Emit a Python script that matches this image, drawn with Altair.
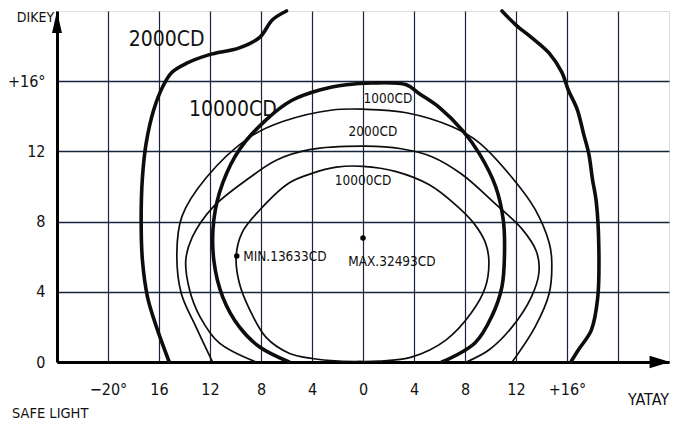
import altair as alt
import pandas as pd

FONT = "Liberation Sans Narrow, DejaVu Sans Condensed, Arial Narrow, sans-serif"

# ---- axes ----
x_grid = [-20, -16, -12, -8, -4, 0, 4, 8, 12, 16, 20]
x_labels = ["\u221220\u00b0", "16", "12", "8", "4", "0", "4", "8", "12", "+16\u00b0", ""]
y_grid = [0, 4, 8, 12, 16]
y_labels = ["0", "4", "8", "12", "+16\u00b0"]

# ---- isocandela curves (degrees) ----
# outer 2000CD, left branch (thick)
a_left_x = [-15.2, -16.2, -16.9, -17.3, -17.4, -17.3, -17.0, -16.4, -15.7, -15.0, -13.9, -12.1, -9.7, -8.1, -7.1, -6.0]
a_left_y = [0.0, 2.0, 3.7, 5.8, 8.1, 10.5, 12.5, 14.4, 15.7, 16.5, 17.0, 17.5, 17.9, 18.5, 19.5, 20.0]
# outer 2000CD, right branch (thick)
a_right_x = [16.3, 16.9, 17.9, 18.4, 18.5, 18.3, 18.0, 17.7, 17.3, 16.8, 16.1, 15.6, 14.6, 13.2, 12.0, 10.9]
a_right_y = [0.0, 0.7, 1.8, 3.6, 6.4, 9.1, 10.4, 11.9, 13.0, 14.4, 15.5, 16.5, 17.6, 18.5, 19.2, 20.0]
# 10000CD (thick dome)
b_x = [-5.8, -8.1, -9.7, -11.0, -11.7, -11.7, -11.0, -9.7, -7.6, -5.6, -3.4, -1.3, 0.7, 3.4, 4.4, 6.0, 7.8, 9.1, 10.4, 11.0, 11.1, 10.9, 10.1, 8.8, 6.2]
b_y = [0.0, 0.85, 2.0, 3.7, 5.8, 8.1, 10.2, 12.1, 13.8, 14.9, 15.5, 15.8, 15.9, 15.8, 15.3, 14.5, 13.2, 11.9, 10.0, 8.1, 6.2, 4.3, 2.6, 1.1, 0.0]
# thin 1000CD
e1_x = [-11.8, -13.1, -14.25, -14.6, -14.2, -12.3, -8.9, -6.3, -2.4, 0.2, 3.4, 7.0, 9.1, 11.7, 13.5, 14.6, 14.8, 14.6, 13.5, 11.7]
e1_y = [0.0, 2.0, 3.9, 6.2, 8.3, 10.5, 12.8, 13.7, 14.36, 14.4, 14.2, 13.4, 12.5, 10.5, 8.7, 6.8, 5.8, 3.9, 2.0, 0.0]
# thin 2000CD
e2_x = [-8.4, -11.3, -12.8, -13.6, -13.9, -13.4, -11.8, -8.9, -6.8, -4.2, 0.2, 3.0, 5.4, 7.75, 10.4, 12.45, 13.6, 13.8, 13.2, 11.7, 9.9, 8.1]
e2_y = [0.0, 1.1, 2.6, 4.1, 5.8, 7.1, 8.8, 10.5, 11.5, 12.1, 12.3, 12.15, 11.7, 10.7, 9.0, 7.6, 6.3, 5.1, 3.7, 2.0, 0.7, 0.0]
# thin 10000CD (closed loop, starting at the bottom)
e3_x = [-0.3, 1.25, 3.8, 6.5, 8.5, 9.6, 9.87, 9.6, 8.7, 7.2, 5.2, 2.6, 0.0, -2.1, -4.0, -5.8, -8.1, -9.5, -9.95, -9.7, -8.9, -7.6, -5.8, -4.0, -1.9, -0.3]
e3_y = [0.03, 0.05, 0.28, 1.25, 2.8, 4.27, 5.8, 6.8, 7.9, 9.0, 10.1, 10.85, 11.15, 11.1, 10.75, 10.2, 8.66, 7.35, 6.0, 4.5, 3.0, 1.4, 0.5, 0.2, 0.05, 0.03]

# ---- labels ----
big_text = ["2000CD", "10000CD"]
big_x = [-15.4, -10.2]
big_y = [18.35, 14.36]
small_text = ["1000CD", "2000CD", "10000CD"]
small_x = [1.96, 0.78, 0.0]
small_y = [15.0, 13.1, 10.3]
pt_name = ["MIN.13633CD", "MAX.32493CD"]
pt_x = [-9.9, 0.0]
pt_y = [6.04, 7.07]
min_label_x = [-9.4]
min_label_y = [5.98]
max_label_x = [2.27]
max_label_y = [5.7]

XD = [-24, 24]
YD = [0, 20]


def curve_df(name, xs, ys):
    return pd.DataFrame({"curve": name, "order": range(len(xs)), "x": xs, "y": ys})


thick_df = pd.concat([
    curve_df("A_left", a_left_x, a_left_y),
    curve_df("A_right", a_right_x, a_right_y),
    curve_df("B", b_x, b_y),
])
thin_df = pd.concat([
    curve_df("E1", e1_x, e1_y),
    curve_df("E2", e2_x, e2_y),
    curve_df("E3", e3_x, e3_y),
])


def label_expr(vals, labs):
    expr = "''"
    for v, l in reversed(list(zip(vals, labs))):
        expr = f"datum.value == {v} ? '{l}' : ({expr})"
    return expr


xs = alt.Scale(domain=XD, nice=False, zero=False)
ys = alt.Scale(domain=YD, nice=False, zero=False)

x_axis = alt.Axis(values=x_grid, labelExpr=label_expr(x_grid, x_labels), grid=True,
                  gridColor="#16243c", gridWidth=1.2, gridOpacity=1, ticks=False, tickSize=0,
                  domainColor="#000000", domainWidth=3, labelFontSize=16, labelFont=FONT,
                  labelColor="#111111", labelPadding=27, labelBaseline="middle", labelAngle=0,
                  title="YATAY", titleX=591, titleY=37, titleAlign="center", titleBaseline="middle",
                  titleFont=FONT, titleFontSize=16, titleFontWeight="normal", titleColor="#111111")
y_axis = alt.Axis(values=y_grid, labelExpr=label_expr(y_grid, y_labels), grid=True,
                  gridColor="#16243c", gridWidth=1.6, gridOpacity=1, ticks=False, tickSize=0,
                  domainColor="#000000", domainWidth=3, labelFontSize=16, labelFont=FONT,
                  labelColor="#111111", labelPadding=12, labelBaseline="middle",
                  title="DIKEY", titleX=-22, titleY=6, titleAngle=0, titleAlign="center",
                  titleBaseline="middle", titleFont=FONT, titleFontSize=14,
                  titleFontWeight="normal", titleColor="#111111")

thick = alt.Chart(thick_df).mark_line(color="#0d0d0d", strokeWidth=3.6, interpolate="catmull-rom",
                                      strokeJoin="round", strokeCap="round").encode(
    x=alt.X("x:Q", scale=xs, axis=x_axis),
    y=alt.Y("y:Q", scale=ys, axis=y_axis),
    detail="curve:N",
    order="order:Q",
)
thin = alt.Chart(thin_df).mark_line(color="#0d0d0d", strokeWidth=1.7, interpolate="catmull-rom").encode(
    x=alt.X("x:Q", scale=xs), y=alt.Y("y:Q", scale=ys), detail="curve:N", order="order:Q")

big_df = pd.DataFrame({"t": big_text, "x": big_x, "y": big_y})
big = alt.Chart(big_df).mark_text(font=FONT, fontSize=21, color="#111111", baseline="middle").encode(
    x=alt.X("x:Q", scale=xs), y=alt.Y("y:Q", scale=ys), text="t:N")
small_df = pd.DataFrame({"t": small_text, "x": small_x, "y": small_y})
small = alt.Chart(small_df).mark_text(font=FONT, fontSize=13.5, color="#111111", baseline="middle").encode(
    x=alt.X("x:Q", scale=xs), y=alt.Y("y:Q", scale=ys), text="t:N")

pts_df = pd.DataFrame({"t": pt_name, "x": pt_x, "y": pt_y})
pts = alt.Chart(pts_df).mark_point(filled=True, size=30, color="#000000", opacity=1).encode(
    x=alt.X("x:Q", scale=xs), y=alt.Y("y:Q", scale=ys))
min_lab = alt.Chart(pd.DataFrame({"t": [pt_name[0]], "x": min_label_x, "y": min_label_y})).mark_text(
    font=FONT, fontSize=13.5, color="#111111", align="left", baseline="middle").encode(
    x=alt.X("x:Q", scale=xs), y=alt.Y("y:Q", scale=ys), text="t:N")
max_lab = alt.Chart(pd.DataFrame({"t": [pt_name[1]], "x": max_label_x, "y": max_label_y})).mark_text(
    font=FONT, fontSize=13.5, color="#111111", align="center", baseline="middle").encode(
    x=alt.X("x:Q", scale=xs), y=alt.Y("y:Q", scale=ys), text="t:N")

# axis arrow heads, placed at the ends of the axes
y_head = alt.Chart(pd.DataFrame({"x": [XD[0]], "y": [YD[1] - 0.63]})).mark_point(
    shape="M0,-1L-0.45,1L0.45,1Z", size=484, filled=True, color="#000000", opacity=1, clip=False).encode(
    x=alt.X("x:Q", scale=xs), y=alt.Y("y:Q", scale=ys))
x_head = alt.Chart(pd.DataFrame({"x": [XD[1] - 0.72], "y": [YD[0]]})).mark_point(
    shape="M1,0L-1,-0.6L-1,0.6Z", size=420, filled=True, color="#000000", opacity=1, clip=False).encode(
    x=alt.X("x:Q", scale=xs), y=alt.Y("y:Q", scale=ys))

chart = alt.layer(thin, thick, big, small, pts, min_lab, max_lab, y_head, x_head).properties(
    width=612, height=351,
    autosize=alt.AutoSizeParams(type="none"),
    padding={"left": 49, "top": 3, "right": 14, "bottom": 62},
    title=alt.TitleParams("SAFE LIGHT", orient="bottom", anchor="start", frame="group", font=FONT,
                          fontSize=14.5, fontWeight="normal", color="#111111", offset=0, dx=-45),
).configure_view(fill="#afdcf5", stroke="#16243c", strokeWidth=1.5).configure(background="#ffffff")

chart.save("out.html", embed_options={"renderer": "svg", "actions": False})
